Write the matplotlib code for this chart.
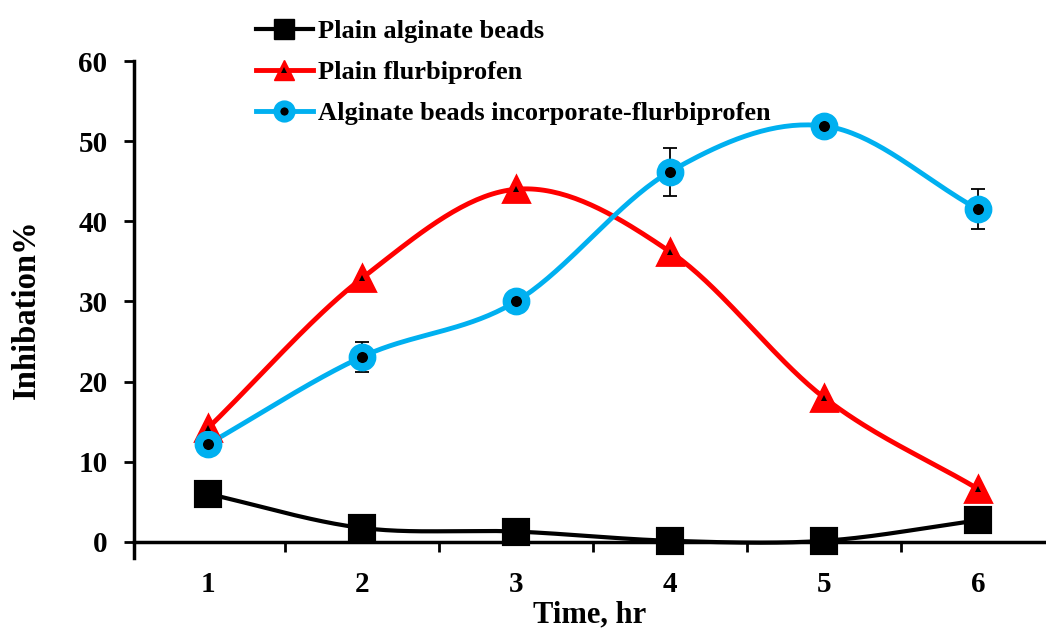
import numpy as np
import matplotlib
matplotlib.use('Agg')
import matplotlib.pyplot as plt
from matplotlib.lines import Line2D

# data
time_hr = [1, 2, 3, 4, 5, 6]
plain_beads = [6.0, 1.75, 1.3, 0.15, 0.15, 2.7]
plain_flurbi = [14.2, 32.9, 44.0, 36.2, 18.0, 6.6]
beads_flurbi = [12.2, 23.1, 30.0, 46.2, 51.9, 41.5]
beads_flurbi_err = [0.0, 1.9, 0.0, 3.0, 0.0, 2.5]

labels = ['Plain alginate beads', 'Plain flurbiprofen',
          'Alginate beads incorporate-flurbiprofen']

RED = '#FF0000'
BLUE = '#00B0F0'

plt.rcParams['font.family'] = ['Liberation Serif', 'DejaVu Serif']
plt.rcParams['font.weight'] = 'bold'


def smooth(x, y, n=40):
    # catmull-rom curve through the points (like excel smoothed lines)
    x = np.asarray(x, float)
    y = np.asarray(y, float)
    px = np.concatenate([[2 * x[0] - x[1]], x, [2 * x[-1] - x[-2]]])
    py = np.concatenate([[2 * y[0] - y[1]], y, [2 * y[-1] - y[-2]]])
    xs, ys = [], []
    t = np.linspace(0, 1, n)
    for i in range(1, len(px) - 2):
        for p, out in ((px, xs), (py, ys)):
            p0, p1, p2, p3 = p[i - 1], p[i], p[i + 1], p[i + 2]
            out.extend(0.5 * ((2 * p1) + (-p0 + p2) * t
                              + (2 * p0 - 5 * p1 + 4 * p2 - p3) * t ** 2
                              + (-p0 + 3 * p1 - 3 * p2 + p3) * t ** 3))
    return np.array(xs), np.array(ys)


fig = plt.figure(figsize=(10.46, 6.34), dpi=100)
ax = fig.add_axes([134 / 1046, (634 - 558) / 634, (1046 - 134) / 1046, (558 - 61) / 634])

# black series
sx, sy = smooth(time_hr, plain_beads)
ax.plot(sx, sy, color='black', lw=3, zorder=3)
ax.plot(time_hr, plain_beads, ls='none', marker='s', ms=17, mfc='black', mec='black',
        mew=3, zorder=4)

# red series
sx, sy = smooth(time_hr, plain_flurbi)
ax.plot(sx, sy, color=RED, lw=3.5, zorder=3)
ax.plot(time_hr, plain_flurbi, ls='none', marker='^', ms=19, mfc=RED, mec=RED,
        mew=2, zorder=4)
ax.plot(time_hr, plain_flurbi, ls='none', marker='^', ms=5, mfc='black', mec='black',
        mew=0, zorder=5)

# blue series
sx, sy = smooth(time_hr, beads_flurbi)
ax.errorbar(time_hr, beads_flurbi, yerr=beads_flurbi_err, fmt='none', ecolor='black',
            elinewidth=1.3, capsize=5, capthick=1.3, zorder=3.5)
ax.plot(sx, sy, color=BLUE, lw=3.5, zorder=3)
ax.plot(time_hr, beads_flurbi, ls='none', marker='o', ms=14, mfc='black', mec=BLUE,
        mew=6, zorder=4)

ax.set_xlim(0.52, 6.44)
ax.set_ylim(-2, 60)
ax.set_yticks([0, 10, 20, 30, 40, 50, 60])
ax.set_xticks(time_hr)
ax.set_xticks([1.5, 2.5, 3.5, 4.5, 5.5], minor=True)
ax.tick_params(axis='x', which='major', length=0, pad=21, labelsize=21)
ax.tick_params(axis='x', which='minor', length=7, width=2, direction='out')
ax.tick_params(axis='y', length=7, width=2, direction='out', labelsize=21, pad=12)

for s in ('top', 'right'):
    ax.spines[s].set_visible(False)
ax.spines['bottom'].set_position(('data', 0))
ax.spines['bottom'].set_linewidth(2.5)
ax.spines['left'].set_linewidth(2.5)
ax.spines['left'].set_bounds(-2, 60)

ax.set_xlabel('Time, hr', fontsize=22, fontweight='bold', va='top')
ax.set_ylabel('Inhibation%', fontsize=23.5, fontweight='bold', labelpad=26)
ax.xaxis.set_label_coords(0.5, -0.085)

# legend built from proxy handles
h1 = Line2D([], [], color='black', lw=3, marker='s', ms=14, mfc='black', mec='black')
h2 = Line2D([], [], color=RED, lw=3.5, marker='^', ms=15, mfc=RED, mec=RED)
h2b = Line2D([], [], ls='none', marker='^', ms=5, mfc='black', mec='black', mew=0)
h3 = Line2D([], [], color=BLUE, lw=3.5, marker='o', ms=11, mfc='black', mec=BLUE, mew=5)
fig.legend([h1, (h2, h2b), h3], labels, loc='upper left', bbox_to_anchor=(236 / 1046, 1.0),
           frameon=False, prop={'size': 19, 'weight': 'bold'}, handlelength=2.15,
           handletextpad=0.2, labelspacing=0.66, borderaxespad=0.35)

fig.savefig('out.png', dpi=100)
